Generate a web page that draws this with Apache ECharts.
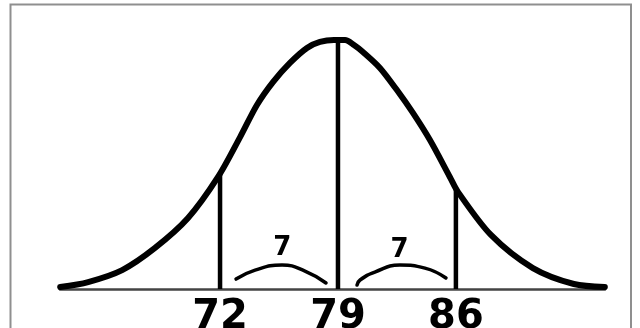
<!DOCTYPE html>
<html>
<head>
<meta charset="utf-8">
<script src="https://cdn.jsdelivr.net/npm/echarts@6/dist/echarts.min.js"></script>
<style>
  html, body { margin: 0; padding: 0; background: #fff; }
  #chart { width: 640px; height: 328px; }
</style>
</head>
<body>
<div id="chart"></div>
<script>
// Bell curve: x is the score, y is the height as a percent of the peak
const curveX = [62.51, 64.17, 66.19, 68.14, 70.10, 71.88, 73.19, 74.19, 75.14, 76.15,
                77.16, 77.93, 78.76, 79.42, 79.95, 80.48, 81.49, 82.50, 83.45, 84.46,
                85.64, 86.12, 88.08, 90.57, 93.00, 94.84];
const curveY = [0.8, 2.8, 7.6, 16.5, 28.5, 45.0, 61.0, 73.9, 83.1, 90.8,
                96.8, 99.2, 100, 100, 98.0, 95.2, 88.8, 79.9, 70.7, 59.8,
                45.0, 39.0, 21.7, 8.4, 2.0, 0.8];

// Marked scores (mean and one step either side) and how high each line reaches
const marks = [72, 79, 86];
const markTops = [46.5, 100, 40.5];
const tickLabels = ['72', '79', '86'];

// Brace arcs spanning each gap
const leftArcX = [72.95, 74.08, 75.68, 77.04, 78.29];
const leftArcY = [4.0, 7.6, 9.6, 7.2, 2.4];
const rightArcX = [80.13, 80.31, 81.19, 82.68, 84.16, 85.41];
const rightArcY = [1.6, 3.6, 6.8, 9.6, 8.4, 4.4];
const gapLabelY = [16.2, 15.4];

const xMin = 62.5, xMax = 94.85;

const zip = (xs, ys) => xs.map((x, i) => [x, ys[i]]);

const series = [];

// the curve
series.push({
  type: 'line',
  data: zip(curveX, curveY),
  smooth: 0.3,
  symbol: 'none',
  lineStyle: { color: '#000', width: 6, cap: 'round', join: 'round' },
  z: 5
});

// vertical lines at each marked score
marks.forEach((m, i) => {
  series.push({
    type: 'line',
    data: [[m, 0], [m, markTops[i]]],
    symbol: 'none',
    lineStyle: { color: '#000', width: 4.5 },
    z: 4
  });
});

// gap arcs
[[leftArcX, leftArcY], [rightArcX, rightArcY]].forEach(([xs, ys]) => {
  series.push({
    type: 'line',
    data: zip(xs, ys),
    smooth: 0.5,
    symbol: 'none',
    lineStyle: { color: '#000', width: 3.5, cap: 'round' },
    z: 4
  });
});

// gap sizes written above the arcs
const gaps = [marks[1] - marks[0], marks[2] - marks[1]];
series.push({
  type: 'scatter',
  symbolSize: 0,
  itemStyle: { opacity: 1 },
  data: [
    { value: [(marks[0] + marks[1]) / 2 + 0.2, gapLabelY[0]], gap: gaps[0] },
    { value: [(marks[1] + marks[2]) / 2 + 0.15, gapLabelY[1]], gap: gaps[1] }
  ],
  label: {
    show: true,
    position: 'inside',
    formatter: p => String(p.data.gap),
    color: '#000',
    opacity: 1,
    textBorderWidth: 0,
    fontFamily: 'DejaVu Sans',
    fontWeight: 'bold',
    fontSize: 26
  },
  emphasis: { disabled: true },
  z: 6
});

const chart = echarts.init(document.getElementById('chart'), null, { renderer: 'canvas' });
chart.setOption({
  backgroundColor: '#fff',
  animation: false,
  grid: { left: 60, right: 35, top: 40, bottom: 39, containLabel: false, outerBoundsMode: 'none' },
  xAxis: {
    type: 'value',
    min: xMin,
    max: xMax,
    splitLine: { show: false },
    axisTick: { show: false },
    axisLine: { show: true, lineStyle: { color: '#444', width: 2.5 } },
    axisLabel: {
      customValues: marks,
      formatter: v => tickLabels[marks.indexOf(v)] || '',
      color: '#000',
      fontFamily: 'DejaVu Sans',
      fontWeight: 'bold',
      fontSize: 40,
      margin: 9
    }
  },
  yAxis: {
    type: 'value',
    min: 0,
    max: 100,
    show: false
  },
  graphic: [{
    type: 'rect',
    shape: { x: 10.5, y: 4.5, width: 620.5, height: 400 },
    style: { fill: 'none', stroke: '#8f8f8f', lineWidth: 2 },
    z: 0
  }],
  series
});
</script>
</body>
</html>
